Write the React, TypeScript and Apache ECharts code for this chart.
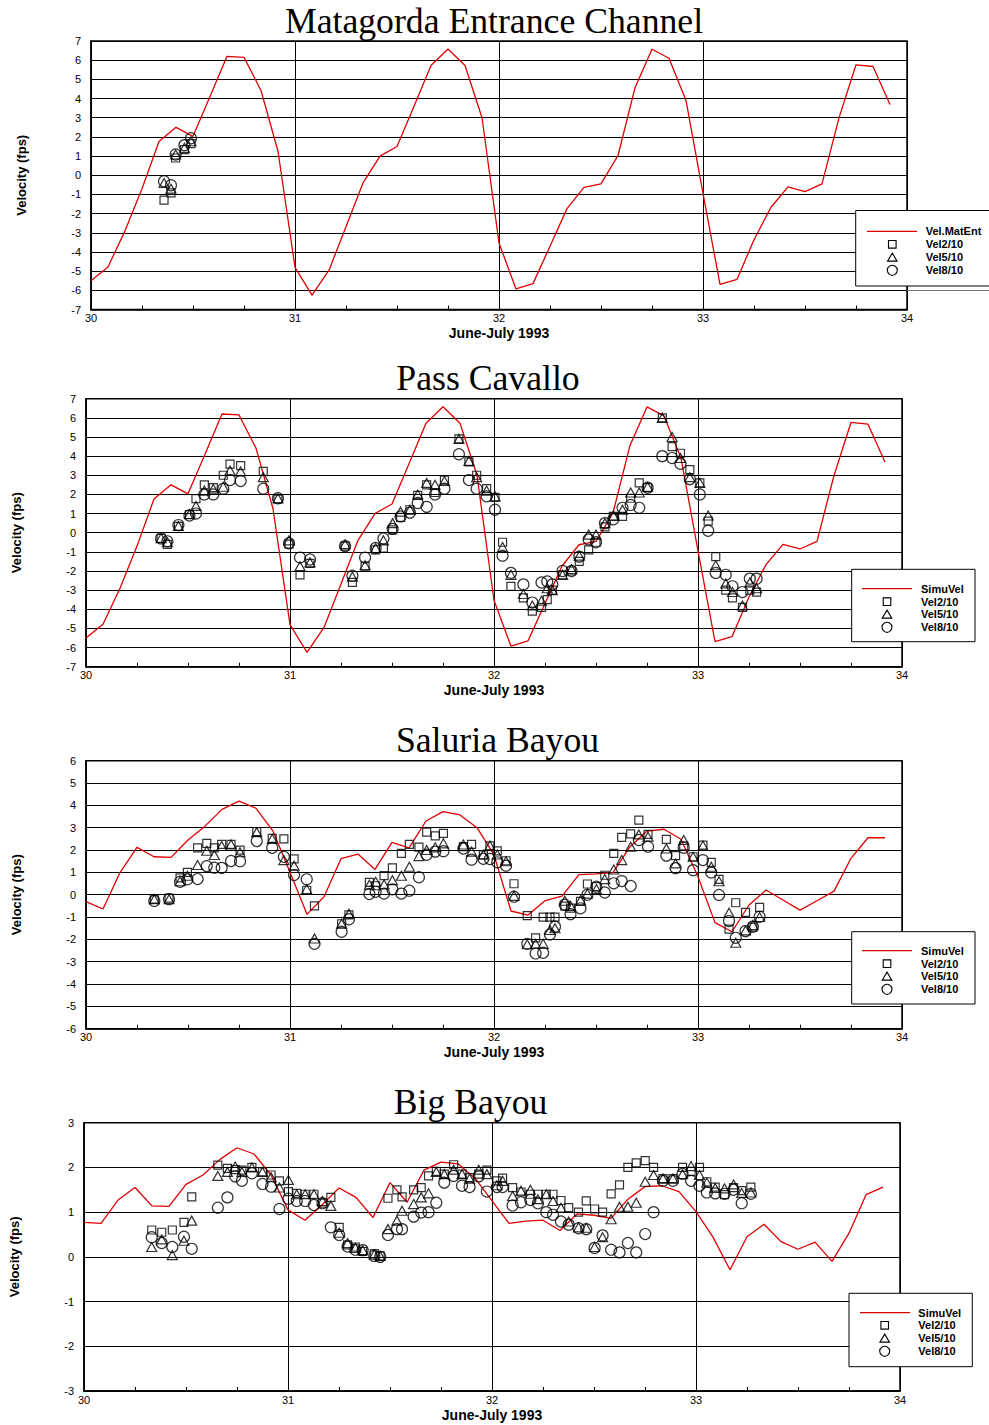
import React, { useEffect, useRef } from "react";
import * as echarts from "echarts";

// ---------- DATA ----------
// simulated-series sample hours after 30 June 00:00 (2-hour step)
const simHours = [0, 2, 4, 6, 8, 10, 12, 14, 16, 18, 20, 22, 24, 26, 28, 30, 32, 34, 36, 38, 40, 42, 44, 46,
  48, 50, 52, 54, 56, 58, 60, 62, 64, 66, 68, 70, 72, 74, 76, 78, 80, 82, 84, 86, 88, 90, 92, 94];

// Matagorda Entrance simulated velocity (also SimuVel at Pass Cavallo)
const matEntVel = [-5.5, -4.78, -2.9, -0.7, 1.76, 2.5, 2.03, 4.1, 6.2, 6.15, 4.42, 1.25,
  -4.8, -6.25, -4.95, -2.68, -0.4, 1.0, 1.5, 3.6, 5.72, 6.58, 5.72, 3.0,
  -3.53, -5.93, -5.65, -3.7, -1.74, -0.63, -0.45, 1.03, 4.56, 6.57, 6.1, 3.9,
  -0.95, -5.69, -5.43, -3.36, -1.67, -0.61, -0.85, -0.45, 2.99, 5.76, 5.67, 3.69];

const saluriaSimVel = [-0.31, -0.64, 0.99, 2.12, 1.7, 1.67, 2.45, 3.07, 3.82, 4.19, 3.87, 2.85,
  1.0, -0.88, -0.09, 1.61, 1.82, 1.13, 2.34, 2.1, 3.3, 3.72, 3.57, 3.0,
  1.78, -0.73, -0.91, -0.27, -0.06, 0.9, 0.93, 0.99, 2.15, 2.85, 2.93, 2.48,
  0.8, -1.25, -1.66, -0.46, 0.21, -0.24, -0.69, -0.27, 0.16, 1.63, 2.55, 2.55];

const bigBayouSimVel = [0.77, 0.75, 1.27, 1.55, 1.14, 1.13, 1.62, 1.83, 2.18, 2.44, 2.3, 1.83,
  1.05, 0.82, 1.16, 1.54, 1.33, 0.88, 1.66, 1.22, 1.94, 2.12, 2.08, 1.76,
  1.25, 0.75, 0.8, 0.82, 0.59, 0.96, 0.93, 0.86, 1.29, 1.57, 1.59, 1.46,
  1.01, 0.44, -0.29, 0.45, 0.73, 0.34, 0.17, 0.33, -0.1, 0.53, 1.39, 1.56];

// Matagorda Entrance observations
const matTimes = [30.358, 30.392, 30.415, 30.458, 30.49];
const matVel2 = [-1.3, -0.92, 0.9, 1.34, 1.65];
const matVel5 = [-0.4, -0.7, 1.08, 1.43, 1.77];
const matVel8 = [-0.31, -0.52, 1.08, 1.57, 1.93];

// Pass Cavallo observations
const pcTimes = [30.368, 30.399, 30.453, 30.507, 30.539, 30.58, 30.624, 30.673, 30.706, 30.758, 30.869, 30.941,
  30.995, 31.049, 31.098, 31.27, 31.306, 31.368, 31.42, 31.458, 31.503, 31.542, 31.588, 31.626, 31.67, 31.711,
  31.757, 31.828, 31.877, 31.915, 31.964, 32.005, 32.042, 32.083, 32.144, 32.188, 32.233, 32.261, 32.286, 32.336,
  32.38, 32.418, 32.464, 32.5, 32.544, 32.585, 32.63, 32.67, 32.712, 32.753, 32.825, 32.873, 32.914, 32.96,
  33.009, 33.05, 33.087, 33.136, 33.169, 33.218, 33.254, 33.287];
const pcVel2 = [-0.3, -0.61, 0.33, 0.95, 1.78, 2.5, 2.35, 3.0, 3.58, 3.5, 3.2, 1.75, -0.6, -2.2, -1.6, -0.7,
  -2.6, -1.75, -0.9, -0.8, 0.15, 0.8, 1.2, 1.95, 2.5, 2.1, 2.75, 4.9, 3.7, 3.0, 2.3, 1.85, -0.5, -2.8, -3.4,
  -4.1, -3.9, -3.5, -3.0, -2.2, -2.0, -1.5, -0.9, -0.5, 0.3, 0.85, 0.85, 1.8, 2.6, 2.35, 6.0, 4.5, 4.15, 3.3,
  2.6, 0.6, -1.25, -3.0, -3.4, -3.9, -3.0, -3.1];
const pcVel5 = [-0.28, -0.5, 0.35, 0.97, 1.4, 2.2, 2.3, 2.4, 3.25, 3.2, 2.9, 1.8, -0.4, -1.75, -1.55, -0.6,
  -2.3, -1.7, -0.8, -0.4, 0.5, 1.1, 1.2, 2.0, 2.6, 2.5, 2.7, 4.9, 3.75, 2.9, 2.2, 1.9, -0.75, -2.2, -3.2,
  -3.8, -3.55, -2.9, -3.0, -2.2, -1.9, -1.2, -0.1, -0.1, 0.5, 0.9, 1.2, 2.1, 2.1, 2.4, 6.0, 5.0, 3.9, 2.9,
  2.6, 0.9, -1.7, -2.65, -3.1, -3.8, -2.6, -2.9];
const pcVel8 = [-0.3, -0.45, 0.4, 0.9, 1.0, 2.0, 2.0, 2.3, 2.75, 2.7, 2.3, 1.8, -0.55, -1.3, -1.4, -0.7,
  -2.25, -1.3, -0.8, -0.3, 0.2, 0.85, 1.05, 1.55, 1.35, 2.0, 2.3, 4.1, 2.75, 2.3, 1.9, 1.2, -1.2, -2.1, -2.7,
  -3.65, -2.6, -2.55, -2.7, -2.0, -2.0, -1.25, -0.35, -0.5, 0.5, 0.7, 1.3, 1.45, 1.3, 2.35, 4.0, 3.9, 3.6, 2.8,
  2.0, 0.1, -2.1, -2.2, -2.8, -3.1, -2.4, -2.4];

// Saluria Bayou observations
const sbTimes = [30.335, 30.407, 30.461, 30.497, 30.547, 30.592, 30.629, 30.665, 30.711, 30.755, 30.837, 30.913,
  30.97, 31.02, 31.082, 31.12, 31.253, 31.289, 31.389, 31.42, 31.461, 31.502, 31.546, 31.585, 31.632, 31.67,
  31.712, 31.752, 31.85, 31.89, 31.948, 31.98, 32.016, 32.059, 32.098, 32.163, 32.204, 32.241, 32.274, 32.299,
  32.347, 32.375, 32.424, 32.458, 32.502, 32.543, 32.587, 32.626, 32.67, 32.71, 32.755, 32.845, 32.89, 32.93,
  32.976, 33.024, 33.065, 33.103, 33.152, 33.185, 33.233, 33.269, 33.302];
const sbVel2 = [-0.2, -0.15, 0.75, 1.0, 2.1, 2.3, 2.1, 2.25, 2.25, 2.0, 2.82, 2.52, 2.5, 1.6, 0.2, -0.5, -1.3,
  -0.9, 0.55, 0.4, 0.85, 1.2, 1.85, 2.25, 2.13, 2.8, 2.63, 2.75, 2.15, 2.25, 1.78, 2.19, 1.96, 1.52, 0.49,
  -0.94, -1.93, -1.0, -1.0, -1.0, -0.51, -0.6, -0.3, 0.48, 0.36, 0.87, 1.85, 2.57, 2.72, 3.34, 2.7, 2.48,
  1.75, 2.19, 1.7, 2.22, 1.45, 0.69, -1.54, -0.36, -0.79, -1.45, -0.57];
const sbVel5 = [-0.2, -0.2, 0.6, 0.85, 1.33, 1.97, 1.78, 2.18, 2.25, 1.9, 2.8, 2.5, 1.55, 1.3, 0.25, -1.96,
  -1.3, -0.85, 0.45, 0.58, 0.46, 0.65, 0.85, 1.25, 1.73, 2.0, 2.12, 2.3, 2.25, 1.93, 1.8, 2.2, 1.8, 1.5, -0.05,
  -2.22, -2.2, -2.2, -1.58, -1.5, -0.27, -0.5, -0.25, 0.05, 0.25, 0.7, 1.13, 1.55, 2.15, 2.7, 2.6, 2.07, 1.4,
  2.45, 1.7, 2.2, 1.25, 0.6, -0.81, -2.15, -1.6, -1.36, -1.0];
const sbVel8 = [-0.28, -0.2, 0.58, 0.69, 0.7, 1.28, 1.21, 1.2, 1.51, 1.5, 2.4, 2.1, 1.7, 0.88, 0.69, -2.2,
  -1.66, -1.1, 0.03, 0.13, 0.05, 0.24, 0.05, 0.18, 0.78, 1.79, 1.93, 1.95, 2.07, 1.57, 1.61, 1.6, 1.45, 1.3,
  -0.09, -2.2, -2.63, -2.6, -1.78, -1.43, -0.45, -0.87, -0.61, 0.0, 0.36, 0.1, 0.51, 0.61, 0.39, 2.45, 2.15,
  1.75, 1.19, 2.1, 1.1, 1.55, 0.99, -0.01, -1.18, -1.93, -1.63, -1.43, -0.99];

// Big Bayou observations
const bbTimes = [30.332, 30.381, 30.433, 30.49, 30.528, 30.656, 30.703, 30.741, 30.774, 30.823, 30.875, 30.917,
  30.958, 31.002, 31.043, 31.084, 31.127, 31.169, 31.21, 31.251, 31.292, 31.33, 31.366, 31.423, 31.452, 31.49,
  31.534, 31.559, 31.616, 31.653, 31.689, 31.727, 31.766, 31.812, 31.853, 31.89, 31.935, 31.975, 32.024, 32.052,
  32.101, 32.142, 32.188, 32.225, 32.266, 32.299, 32.338, 32.376, 32.424, 32.462, 32.503, 32.542, 32.584,
  32.625, 32.666, 32.707, 32.751, 32.792, 32.838, 32.887, 32.934, 32.976, 33.017, 33.053, 33.094, 33.14,
  33.184, 33.224, 33.269];
const bbVel2 = [0.6, 0.55, 0.6, 0.77, 1.34, 2.05, 1.98, 1.95, 1.94, 2.0, 1.9, 1.83, 1.7, 1.46, 1.42, 1.4, 1.4,
  1.2, 1.33, 0.66, 0.27, 0.22, 0.12, 0.07, 0.02, 1.31, 1.5, 1.34, 1.5, 1.55, 1.81, 1.91, 1.85, 2.06, 1.85,
  1.77, 1.85, 1.94, 1.7, 1.76, 1.55, 1.45, 1.4, 1.4, 1.4, 1.4, 1.26, 1.1, 1.0, 1.25, 1.07, 1.0, 1.41, 1.61,
  2.0, 2.1, 2.15, 2.0, 1.75, 1.75, 2.0, 1.91, 2.0, 1.68, 1.56, 1.39, 1.55, 1.48, 1.56];
const bbVel5 = [0.22, 0.39, 0.04, 0.36, 0.81, 1.81, 1.9, 2.02, 1.9, 2.0, 1.9, 1.78, 1.55, 1.72, 1.4, 1.4, 1.4,
  1.25, 1.14, 0.54, 0.31, 0.2, 0.15, 0.05, 0.02, 0.62, 0.81, 1.03, 1.18, 1.33, 1.42, 1.9, 1.85, 1.95, 1.85,
  1.75, 1.95, 1.85, 1.6, 1.7, 1.36, 1.48, 1.5, 1.29, 1.4, 1.25, 1.1, 0.79, 0.66, 0.65, 0.22, 0.44, 0.84, 1.12,
  1.12, 1.21, 1.68, 1.83, 1.75, 1.75, 1.85, 2.03, 1.83, 1.66, 1.54, 1.53, 1.62, 1.43, 1.44];
const bbVel8 = [0.44, 0.31, 0.22, 0.45, 0.18, 1.1, 1.33, 1.8, 1.7, 1.87, 1.63, 1.57, 1.07, 1.3, 1.25, 1.25,
  1.16, 1.2, 0.66, 0.49, 0.23, 0.16, 0.15, 0.02, 0.0, 0.49, 0.62, 0.62, 0.9, 0.99, 1.0, 1.21, 1.66, 1.81, 1.59,
  1.56, 1.8, 1.46, 1.56, 1.56, 1.15, 1.22, 1.27, 1.2, 1.0, 0.94, 0.79, 0.72, 0.64, 0.62, 0.2, 0.48, 0.16, 0.1,
  0.31, 0.1, 0.51, 1.0, 1.7, 1.7, 1.86, 1.7, 1.59, 1.44, 1.42, 1.41, 1.5, 1.2, 1.41];

const obsNames = ["Vel2/10", "Vel5/10", "Vel8/10"];
const xAxisTitle = "June-July 1993";
const yAxisTitle = "Velocity (fps)";

// ---------- LAYOUT ----------
const SANS = "'Liberation Sans', Arial, sans-serif";
const SERIF = "'Liberation Serif', 'Times New Roman', serif";
const RED = "#e00000";

const panels = [
  {
    title: "Matagorda Entrance Channel", lineName: "Vel.MatEnt", sim: matEntVel,
    times: matTimes, obs: [matVel2, matVel5, matVel8], yMin: -7, yMax: 7,
    grid: { left: 91, top: 41, width: 816, height: 268.5 },
    titleX: 494, yNameX: 21,
    legend: { x: 855.7, y: 210.5, w: 140, h: 75.5, l1: 867, l2: 917, sx: 892.3, tx: 925.7, rows: [231.3, 244.3, 257.3, 270.3] },
  },
  {
    title: "Pass Cavallo", lineName: "SimuVel", sim: matEntVel,
    times: pcTimes, obs: [pcVel2, pcVel5, pcVel8], yMin: -7, yMax: 7,
    grid: { left: 86, top: 398.7, width: 816, height: 268 },
    titleX: 488, yNameX: 16,
    legend: { x: 851.7, y: 569.3, w: 123.3, h: 72.4, l1: 862, l2: 912, sx: 887, tx: 921, rows: [588.7, 601.7, 614.3, 627.3] },
  },
  {
    title: "Saluria Bayou", lineName: "SimuVel", sim: saluriaSimVel,
    times: sbTimes, obs: [sbVel2, sbVel5, sbVel8], yMin: -6, yMax: 6,
    grid: { left: 86, top: 760.7, width: 816, height: 268 },
    titleX: 497.5, yNameX: 16,
    legend: { x: 851.7, y: 931.7, w: 123.3, h: 72.3, l1: 862, l2: 912, sx: 887, tx: 921, rows: [950.7, 963.7, 976.3, 989.3] },
  },
  {
    title: "Big Bayou", lineName: "SimuVel", sim: bigBayouSimVel,
    times: bbTimes, obs: [bbVel2, bbVel5, bbVel8], yMin: -3, yMax: 3,
    grid: { left: 84, top: 1122.7, width: 816, height: 268.3 },
    titleX: 470.5, yNameX: 14,
    legend: { x: 849, y: 1293.3, w: 123.3, h: 73.4, l1: 860, l2: 910, sx: 884.7, tx: 918.3, rows: [1312.7, 1325.3, 1338.3, 1351.3] },
  },
];

const obsSymbols = [
  { symbol: "rect", size: [8, 8] },
  { symbol: "triangle", size: [10, 9] },
  { symbol: "circle", size: [11, 11] },
];

function legendElements(p: any) {
  const L = p.legend;
  const els: any[] = [];
  els.push({
    type: "rect", shape: { x: L.x, y: L.y, width: L.w, height: L.h },
    style: { fill: "#fff", stroke: "#000", lineWidth: 1 }, z: 100,
  });
  els.push({
    type: "line", shape: { x1: L.l1, y1: L.rows[0], x2: L.l2, y2: L.rows[0] },
    style: { stroke: RED, lineWidth: 1.3 }, z: 101,
  });
  const sx = L.sx;
  const r1 = L.rows[1], r2 = L.rows[2], r3 = L.rows[3];
  els.push({
    type: "rect", shape: { x: sx - 3.8, y: r1 - 3.8, width: 7.6, height: 7.6 },
    style: { fill: "none", stroke: "#000", lineWidth: 1.1 }, z: 101,
  });
  els.push({
    type: "polygon", shape: { points: [[sx, r2 - 4.2], [sx + 4.8, r2 + 3.8], [sx - 4.8, r2 + 3.8]] },
    style: { fill: "none", stroke: "#000", lineWidth: 1.1 }, z: 101,
  });
  els.push({
    type: "circle", shape: { cx: sx, cy: r3, r: 5 },
    style: { fill: "none", stroke: "#000", lineWidth: 1.1 }, z: 101,
  });
  const names = [p.lineName, ...obsNames];
  names.forEach((n, i) => {
    els.push({
      type: "text", x: L.tx, y: L.rows[i], z: 101,
      style: {
        text: n, fill: "#000", fontSize: 11, fontWeight: "bold", fontFamily: SANS,
        align: "left", verticalAlign: "middle", textAlign: "left", textVerticalAlign: "middle",
      },
    });
  });
  return els;
}

function buildOption() {
  const grids: any[] = [];
  const xAxes: any[] = [];
  const yAxes: any[] = [];
  const series: any[] = [];
  const graphics: any[] = [];

  panels.forEach((p, i) => {
    grids.push({
      ...p.grid, show: true, borderColor: "#000", borderWidth: 1.5, backgroundColor: "transparent",
      containLabel: false,
    });
    xAxes.push({
      type: "value", gridIndex: i, min: 30, max: 34, interval: 1,
      axisLine: { show: true, onZero: false, lineStyle: { color: "#000", width: 1.5 } },
      axisTick: { show: true, inside: true, length: 3, lineStyle: { color: "#000" } },
      minorTick: { show: true, splitNumber: 4, length: 4, lineStyle: { color: "#000", width: 1 } },
      axisLabel: { color: "#000", fontSize: 11, fontFamily: SANS, margin: 3 },
      splitLine: { show: true, lineStyle: { color: "#000", width: 1 } },
    });
    yAxes.push({
      type: "value", gridIndex: i, min: p.yMin, max: p.yMax, interval: 1,
      axisLine: { show: true, onZero: false, lineStyle: { color: "#000", width: 1.5 } },
      axisTick: { show: false },
      axisLabel: { color: "#000", fontSize: 11, fontFamily: SANS, margin: 10 },
      splitLine: { show: true, lineStyle: { color: "#000", width: 1 } },
    });
    series.push({
      name: p.lineName, type: "line", xAxisIndex: i, yAxisIndex: i, silent: true,
      data: simHours.map((h, k) => [30 + h / 24, p.sim[k]]),
      symbol: "none", lineStyle: { color: RED, width: 1.3 }, z: 2,
    });
    obsSymbols.forEach((s, j) => {
      series.push({
        name: obsNames[j], type: "scatter", xAxisIndex: i, yAxisIndex: i, silent: true,
        data: p.times.map((t: number, k: number) => [t, p.obs[j][k]]),
        symbol: s.symbol, symbolSize: s.size,
        itemStyle: { color: "rgba(0,0,0,0)", borderColor: "#000", borderWidth: 1.2 },
        z: 3,
      });
    });

    const g = p.grid;
    graphics.push({
      type: "text", x: p.titleX, y: g.top - 20.5,
      style: {
        text: p.title, fill: "#000", fontSize: 35.7, fontFamily: SERIF,
        align: "center", verticalAlign: "middle", textAlign: "center", textVerticalAlign: "middle",
      },
    });
    graphics.push({
      type: "text", x: p.yNameX, y: g.top + g.height / 2, rotation: Math.PI / 2,
      style: {
        text: yAxisTitle, fill: "#000", fontSize: 13, fontWeight: "bold", fontFamily: SANS,
        align: "center", verticalAlign: "middle", textAlign: "center", textVerticalAlign: "middle",
      },
    });
    graphics.push({
      type: "text", x: g.left + g.width / 2, y: g.top + g.height + 23.5,
      style: {
        text: xAxisTitle, fill: "#000", fontSize: 14, fontWeight: "bold", fontFamily: SANS,
        align: "center", verticalAlign: "middle", textAlign: "center", textVerticalAlign: "middle",
      },
    });
    graphics.push(...legendElements(p));
  });

  // thin shadow line under the first legend box
  graphics.push({
    type: "line", shape: { x1: 907, y1: 290.5, x2: 989, y2: 290.5 },
    style: { stroke: "#777", lineWidth: 1 }, z: 99,
  });

  return {
    animation: false,
    backgroundColor: "#fff",
    grid: grids,
    xAxis: xAxes,
    yAxis: yAxes,
    series,
    graphic: { elements: graphics },
  };
}

export default function App() {
  const ref = useRef<HTMLDivElement>(null);
  useEffect(() => {
    if (!ref.current) return;
    const chart = echarts.init(ref.current, undefined, { renderer: "svg" });
    chart.setOption(buildOption() as any);
    return () => chart.dispose();
  }, []);
  return (
    <div
      ref={ref}
      style={{ position: "absolute", left: 0, top: 0, width: 989, height: 1425, background: "#fff" }}
    />
  );
}
